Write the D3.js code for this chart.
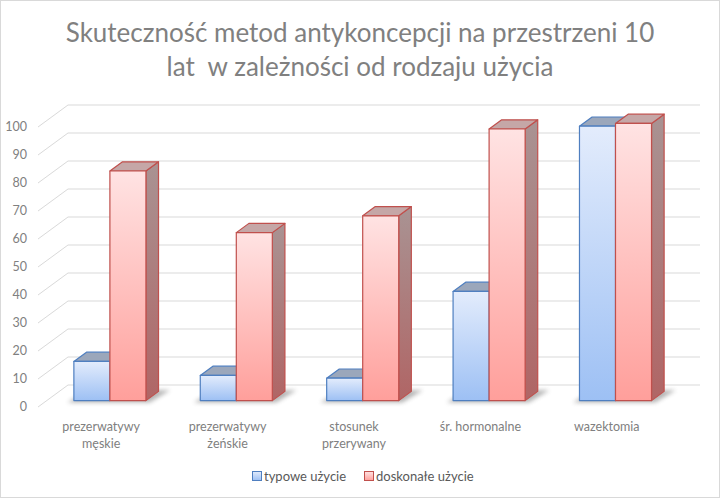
<!DOCTYPE html>
<html>
<head>
<meta charset="utf-8">
<script src="https://cdn.jsdelivr.net/npm/d3@7"></script>
<style>
  body { margin: 0; background: #fff; }
  text { font-family: Lato, "Open Sans", sans-serif; }
</style>
</head>
<body>
<div id="chart"></div>
<script>
// data
const categories = [["prezerwatywy", "męskie"], ["prezerwatywy", "żeńskie"], ["stosunek", "przerywany"], ["śr. hormonalne"], ["wazektomia"]];
const series = ["typowe użycie", "doskonałe użycie"];
const typowe = [14, 9, 8, 39, 98];
const doskonale = [82, 60, 66, 97, 99];
const yTicks = [0, 10, 20, 30, 40, 50, 60, 70, 80, 90, 100];
const titleLines = ["Skuteczność metod antykoncepcji na przestrzeni 10", "lat  w zależności od rodzaju użycia"];

const W = 720, H = 500;
const depthX = 30, depthY = 22;          // full depth of the floor
const barFront = 0.29, barBack = 0.71;   // bar depth as fraction of floor depth

const svg = d3.select('#chart').append('svg')
    .attr('width', W).attr('height', H);

const defs = svg.append('defs');
function grad(id, top, bottom) {
    const g = defs.append('linearGradient').attr('id', id)
        .attr('x1', 0).attr('y1', 0).attr('x2', 0).attr('y2', 1);
    g.append('stop').attr('offset', '0%').attr('stop-color', top);
    g.append('stop').attr('offset', '100%').attr('stop-color', bottom);
}
grad('gBlue', '#e3ecfc', '#9dc0f4');
grad('gRed', '#ffe3e3', '#ff9f9b');
grad('gRedSide', '#a99393', '#b06565');
grad('gBlueSide', '#94a1b7', '#6a87b8');
defs.append('filter').attr('id', 'blur').attr('x', '-50%').attr('y', '-50%').attr('width', '200%').attr('height', '200%')
    .append('feGaussianBlur').attr('stdDeviation', 2.2);

const style = [
    {front: 'url(#gBlue)', top: '#9ba7bb', side: 'url(#gBlueSide)', stroke: '#4f7fc0'},
    {front: 'url(#gRed)', top: '#c5a7a7', side: 'url(#gRedSide)', stroke: '#c0504d'}
];

// outer frame
svg.append('rect').attr('x', 0.5).attr('y', 0.5).attr('width', W - 1).attr('height', H - 3)
    .attr('fill', 'none').attr('stroke', '#d9d9d9');

// title
svg.append('g').selectAll('text').data(titleLines).join('text')
    .attr('x', 360).attr('y', (d, i) => 42 + i * 34)
    .attr('text-anchor', 'middle')
    .attr('font-size', 26)
    .attr('fill', '#808080')
    .style('white-space', 'pre')
    .text(d => d);

// scales on the back wall
const x = d3.scaleBand().domain(d3.range(categories.length)).range([68, 700])
    .paddingInner(0.43).paddingOuter(0.215);
const x1 = d3.scaleBand().domain(d3.range(series.length)).range([0, x.bandwidth()]);
const y = d3.scaleLinear().domain([0, 100]).range([385, 105]);

// project a back-wall point to a given depth (0 = front, 1 = back)
const P = (px, py, d) => [px - depthX * (1 - d), py + depthY * (1 - d)];

// gridlines: back wall + left wall
const grid = svg.append('g').attr('stroke', '#d9d9d9').attr('fill', 'none');
grid.selectAll('.back').data(yTicks).join('line')
    .attr('x1', x.range()[0]).attr('x2', x.range()[1])
    .attr('y1', d => y(d)).attr('y2', d => y(d));
grid.selectAll('.side').data(yTicks).join('line')
    .attr('x1', d => P(x.range()[0], y(d), 0)[0]).attr('y1', d => P(x.range()[0], y(d), 0)[1])
    .attr('x2', x.range()[0]).attr('y2', d => y(d));

// y labels
svg.append('g').selectAll('text').data(yTicks).join('text')
    .attr('x', 27).attr('y', d => P(x.range()[0], y(d), 0)[1])
    .attr('dy', '0.35em').attr('text-anchor', 'end')
    .attr('font-size', 12.5).attr('fill', '#808080')
    .text(d => d);

const values = [typowe, doskonale];
const pts = a => a.map(p => p.join(',')).join(' ');

// bars, left to right
categories.forEach((c, i) => {
    const gx0 = x(i);
    const gx1 = x(i) + x.bandwidth();
    // floor shadow
    svg.append('polygon')
        .attr('points', pts([P(gx0 - 4, y(0), barFront - 0.08), P(gx1 + 6, y(0), barFront - 0.08),
            P(gx1 + 10, y(0), barBack + 0.05), P(gx0, y(0), barBack + 0.05)]))
        .attr('fill', '#5a5a5a').attr('opacity', 0.45).attr('filter', 'url(#blur)');

    series.forEach((s, j) => {
        const v = values[j][i];
        const bx0 = gx0 + x1(j), bx1 = bx0 + x1.bandwidth();
        const yt = y(v), yb = y(0);
        const st = style[j];
        const g = svg.append('g').attr('stroke', st.stroke).attr('stroke-width', 1.2).attr('stroke-linejoin', 'round');
        // side
        g.append('polygon')
            .attr('points', pts([P(bx1, yt, barFront), P(bx1, yt, barBack), P(bx1, yb, barBack), P(bx1, yb, barFront)]))
            .attr('fill', st.side);
        // top
        g.append('polygon')
            .attr('points', pts([P(bx0, yt, barFront), P(bx1, yt, barFront), P(bx1, yt, barBack), P(bx0, yt, barBack)]))
            .attr('fill', st.top);
        // front
        const f0 = P(bx0, yt, barFront), f1 = P(bx1, yb, barFront);
        g.append('rect')
            .attr('x', f0[0]).attr('y', f0[1])
            .attr('width', f1[0] - f0[0]).attr('height', f1[1] - f0[1])
            .attr('fill', st.front);
    });
});

// category labels on the front edge of the floor
const lab = svg.append('g').selectAll('text').data(categories).join('text')
    .attr('x', (d, i) => P(x(i) + x.bandwidth() / 2, 0, 0)[0])
    .attr('y', 431)
    .attr('text-anchor', 'middle')
    .attr('font-size', 12.5).attr('fill', '#808080');
lab.selectAll('tspan').data(d => d).join('tspan')
    .attr('x', function () { return this.parentNode.getAttribute('x'); })
    .attr('dy', (d, k) => k ? 17 : 0)
    .text(d => d);

// legend
const legend = svg.append('g').attr('transform', 'translate(252,476)');
const legX = [0, 112];
series.forEach((s, j) => {
    const lg = legend.append('g').attr('transform', `translate(${legX[j]},0)`);
    lg.append('rect').attr('x', 0.5).attr('y', -4.5).attr('width', 9).attr('height', 9)
        .attr('fill', style[j].front).attr('stroke', style[j].stroke);
    lg.append('text').attr('x', 12).attr('y', 0).attr('dy', '0.35em')
        .attr('font-size', 13).attr('fill', '#595959').text(s);
});
</script>
</body>
</html>
